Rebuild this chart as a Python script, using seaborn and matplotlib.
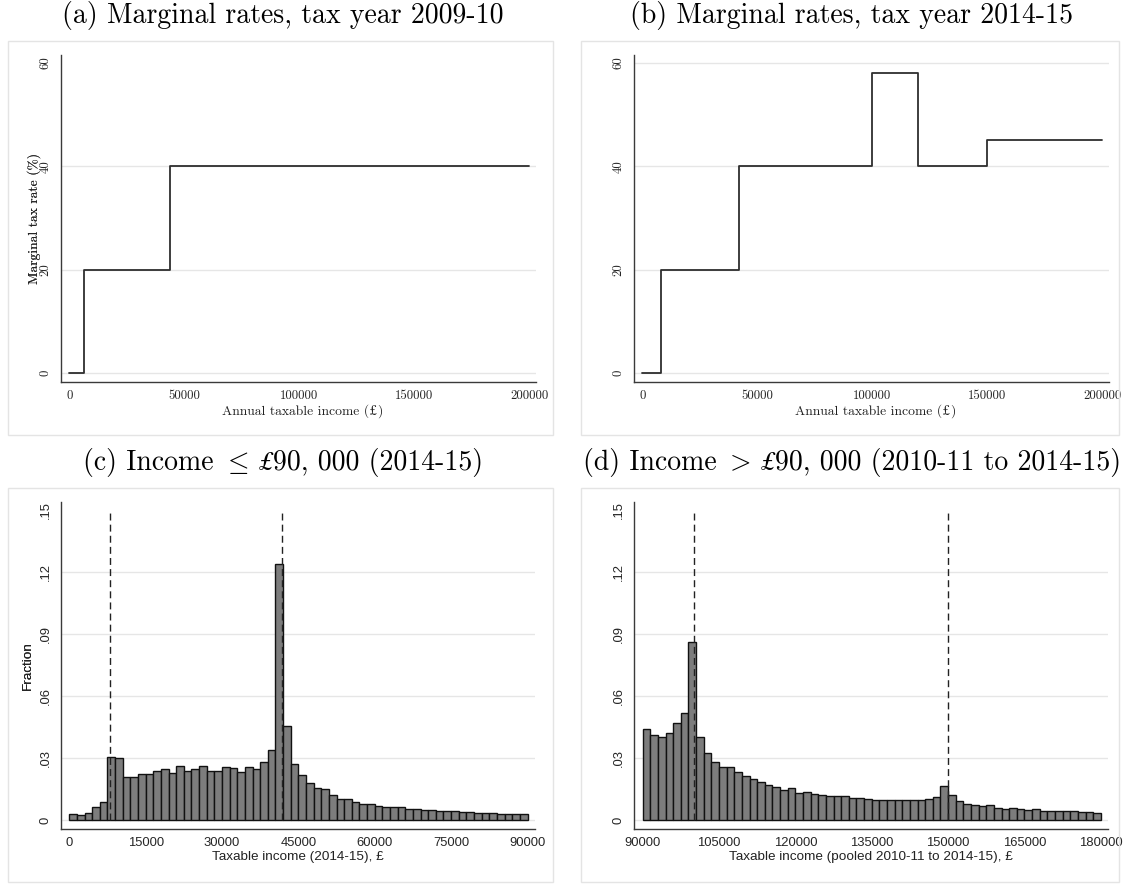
import numpy as np
import pandas as pd
import matplotlib
matplotlib.use("Agg")
import matplotlib.pyplot as plt
import seaborn as sns
from matplotlib.patches import Rectangle

# ---------------- data ----------------
a_thresholds = [0, 6475, 43875, 200000]
a_rates = [0, 20, 40, 40]

b_thresholds = [0, 8000, 41865, 100000, 120000, 150000, 200000]
b_rates = [0, 20, 40, 58, 40, 45, 45]

rate_ticks = [0, 20, 40, 60]
income_ticks_ab = [0, 50000, 100000, 150000, 200000]

bin_width = 1500
c_bin_start = 0
c_fraction = [0.0028, 0.0023, 0.0032, 0.0062, 0.0086, 0.0305, 0.0300, 0.0210, 0.0210, 0.0220,
              0.0220, 0.0237, 0.0246, 0.0228, 0.0260, 0.0237, 0.0246, 0.0260, 0.0235, 0.0235,
              0.0256, 0.0253, 0.0230, 0.0256, 0.0246, 0.0280, 0.0340, 0.1235, 0.0454, 0.0270,
              0.0219, 0.0178, 0.0154, 0.0152, 0.0120, 0.0100, 0.0100, 0.0086, 0.0079, 0.0075,
              0.0070, 0.0065, 0.0063, 0.0062, 0.0055, 0.0052, 0.0050, 0.0047, 0.0044, 0.0045,
              0.0042, 0.0037, 0.0039, 0.0034, 0.0032, 0.0032, 0.0029, 0.0031, 0.0028, 0.0028]
c_kinks = [8000, 41865]
c_ticks = [0, 15000, 30000, 45000, 60000, 75000, 90000]

d_bin_start = 90000
d_fraction = [0.0439, 0.0412, 0.0402, 0.0420, 0.0469, 0.0517, 0.0862, 0.0402, 0.0324, 0.0282,
              0.0256, 0.0256, 0.0230, 0.0211, 0.0198, 0.0183, 0.0169, 0.0159, 0.0144, 0.0154,
              0.0131, 0.0135, 0.0126, 0.0123, 0.0117, 0.0116, 0.0116, 0.0105, 0.0105, 0.0100,
              0.0097, 0.0096, 0.0096, 0.0098, 0.0099, 0.0097, 0.0097, 0.0101, 0.0110, 0.0164,
              0.0122, 0.0091, 0.0078, 0.0073, 0.0066, 0.0071, 0.0060, 0.0052, 0.0057, 0.0054,
              0.0050, 0.0052, 0.0045, 0.0042, 0.0043, 0.0043, 0.0043, 0.0039, 0.0039, 0.0036]
d_kinks = [100000, 150000]
d_ticks = [90000, 105000, 120000, 135000, 150000, 165000, 180000]

frac_ticks = [0, 0.03, 0.06, 0.09, 0.12, 0.15]
frac_labels = ["0", ".03", ".06", ".09", ".12", ".15"]

# ---------------- style ----------------
sns.set_style("white")
plt.rcParams["mathtext.fontset"] = "cm"
SERIF = ["cmr10", "DejaVu Serif"]
POUND = ["STIXGeneral", "DejaVu Serif"]
SANS = ["Liberation Sans", "DejaVu Sans"]

W, H = 1126, 884
fig = plt.figure(figsize=(W / 100, H / 100), dpi=100)
fig.patch.set_facecolor("white")
renderer = fig.canvas.get_renderer()

def px_axes(left, top, right, bottom):
    return fig.add_axes([left / W, 1 - bottom / H, (right - left) / W, (bottom - top) / H])

def add_box(left, top, right, bottom):
    fig.patches.append(Rectangle((left / W, 1 - bottom / H), (right - left) / W, (bottom - top) / H,
                                 transform=fig.transFigure, fill=False, edgecolor="#e4e4e4",
                                 linewidth=1.0, zorder=0))

def seg_text(cx, base_y, segs, fs, color="black"):
    """Place a run of text pieces (each with its own font) centred at cx, on baseline base_y (px)."""
    arts, widths, gaps = [], [], []
    for s, fam, style, math, gap in segs:
        t = fig.text(0, 1 - base_y / H, s, fontsize=fs, family=fam, style=style,
                     va="baseline", ha="left", parse_math=math, color=color)
        arts.append(t)
        widths.append(t.get_window_extent(renderer).width)
        gaps.append(gap * fs * 100 / 72)
    total = sum(widths) + sum(gaps[:-1])
    x = cx - total / 2
    for t, w, g in zip(arts, widths, gaps):
        t.set_x(x / W)
        x += w + g

SPINE = "#3a3a3a"
GRID = "#e6e6e6"

def style_axes(ax, family, fs):
    for s in ["top", "right"]:
        ax.spines[s].set_visible(False)
    for s in ["left", "bottom"]:
        ax.spines[s].set_color(SPINE)
        ax.spines[s].set_linewidth(1.0)
    ax.tick_params(axis="both", direction="out", length=3.4, width=0.9, color=SPINE,
                   labelsize=fs, pad=2.5)
    ax.tick_params(axis="y", pad=3.5)
    for lab in ax.get_xticklabels() + ax.get_yticklabels():
        lab.set_family(family)
    for lab in ax.get_yticklabels():
        lab.set_rotation(90)
        lab.set_va("center")
    ax.set_facecolor("white")

# boxes
add_box(7.7, 41, 553, 435)
add_box(580.5, 41, 1119, 435)
add_box(7.7, 488, 553, 882)
add_box(580.5, 488, 1119, 882)

# titles
TFS = 20
SP = 0.333
seg_text(283, 23.5, [("(a) Marginal rates, tax year 2009-10", SERIF, "normal", False, 0)], TFS)
seg_text(852, 23.5, [("(b) Marginal rates, tax year 2014-15", SERIF, "normal", False, 0)], TFS)
seg_text(283, 470, [("(c) Income", SERIF, "normal", False, SP),
                    (r"$\leq$", SERIF, "normal", True, SP),
                    ("£", POUND, "italic", False, 0.02),
                    ("90, 000 (2014-15)", SERIF, "normal", False, 0)], TFS)
seg_text(852, 470, [("(d) Income", SERIF, "normal", False, SP),
                    (r"$>$", SERIF, "normal", True, SP),
                    ("£", POUND, "italic", False, 0.02),
                    ("90, 000 (2010-11 to 2014-15)", SERIF, "normal", False, 0)], TFS)

# ---------------- panels a, b ----------------
LFS = 9.8
for (left, right), thr, rates in [((61.4, 535.5), a_thresholds, a_rates),
                                  ((634.4, 1108.5), b_thresholds, b_rates)]:
    ax = px_axes(left, 55, right, 381.7)
    for t in rate_ticks[:-1] if thr is a_thresholds else rate_ticks:
        ax.axhline(t, color=GRID, lw=1.0, zorder=0)
    sns.lineplot(x=thr, y=rates, drawstyle="steps-post", estimator=None, sort=False,
                 color="#2e2e2e", lw=1.3, ax=ax)
    ax.set_xlim(-3435, 202700)
    ax.set_ylim(-1.65, 61.5)
    ax.set_xticks(income_ticks_ab)
    ax.set_xticklabels([str(v) for v in income_ticks_ab])
    ax.set_yticks(rate_ticks)
    ax.set_yticklabels([str(v) for v in rate_ticks])
    style_axes(ax, SERIF, 9.3)
    ax.set_ylabel("Marginal tax rate (%)", family=SERIF, fontsize=LFS, color="#222222")
    ax.yaxis.label.set_va("center")
    ax.yaxis.set_label_coords((34 - left) / (right - left), 0.5)
    seg_text((left + right) / 2 + 4, 415, [("Annual taxable income (", SERIF, "normal", False, 0.03),
                                           ("£", POUND, "normal", False, 0.03),
                                           (")", SERIF, "normal", False, 0)], LFS, color="#222222")

# ---------------- panels c, d ----------------
for (left, right), start, frac, kinks, ticks, xlabel in [
        ((61, 535), c_bin_start, c_fraction, c_kinks, c_ticks, "Taxable income (2014-15), £"),
        ((634.3, 1108.3), d_bin_start, d_fraction, d_kinks, d_ticks,
         "Taxable income (pooled 2010-11 to 2014-15), £")]:
    ax = px_axes(left, 502, right, 828.7)
    for t in frac_ticks[:-1]:
        ax.axhline(t, color=GRID, lw=1.0, zorder=0)
    n = len(frac)
    edges = [float(start + bin_width * i) for i in range(n + 1)]
    centers = [e + bin_width / 2 for e in edges[:-1]]
    df = pd.DataFrame({"income": centers, "fraction": frac})
    sns.histplot(data=df, x="income", weights="fraction", bins=edges, stat="count",
                 color="#7d7d7d", edgecolor="#111111", linewidth=1.0, alpha=1.0, ax=ax,
                 zorder=2)
    ax.vlines(kinks, 0, 0.15, colors="#222222", linestyles=(0, (5, 3)), lw=1.0, zorder=3)
    span = ticks[-1] - ticks[0]
    px_span = 458.2
    ax.set_xlim(ticks[0] - (8.3 / px_span) * span, ticks[-1] + (7.5 / px_span) * span)
    ax.set_ylim(-0.0042, 0.1537)
    ax.set_xticks(ticks)
    ax.set_xticklabels([str(v) for v in ticks])
    ax.set_yticks(frac_ticks)
    ax.set_yticklabels(frac_labels)
    style_axes(ax, SANS, 9.4)
    ax.set_xlabel(xlabel, family=SANS, fontsize=9.7, color="#222222")
    ax.set_ylabel("Fraction", family=SANS, fontsize=9.7, color="#222222")
    ax.xaxis.label.set_va("center")
    ax.yaxis.label.set_va("center")
    ax.xaxis.set_label_coords(0.5, (828.7 - 857) / 326.7)
    ax.yaxis.set_label_coords((28 - left) / (right - left), 0.5)

fig.savefig("out.png", dpi=100, facecolor="white")
